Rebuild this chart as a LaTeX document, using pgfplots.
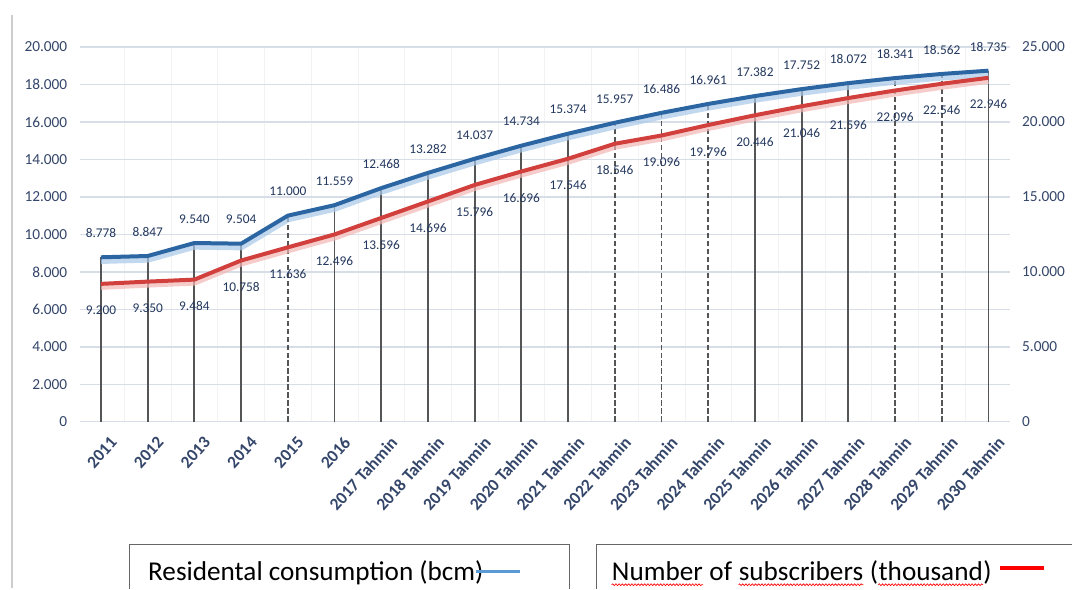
\documentclass[border=0pt]{standalone}
\usepackage{fontspec}
\setmainfont{Carlito}
\usepackage{pgfplots}
\pgfplotsset{compat=1.18}
\usepackage{pgfplotstable}
\usetikzlibrary{decorations.pathmorphing}
\definecolor{consblue}{HTML}{2C66A2}
\definecolor{consglow}{HTML}{A9C8E8}
\definecolor{subsred}{HTML}{D1403C}
\definecolor{subsglow}{HTML}{F3B7B5}
\definecolor{labcol}{HTML}{23385E}
\definecolor{tickcol}{HTML}{34466A}
\definecolor{gridcol}{HTML}{D8DEE8}
\definecolor{dropcol}{HTML}{555555}
\definecolor{legblue}{HTML}{5B9BD5}

\pgfplotstableread{
x cons subs lc ls
0 8778 9200 8.778 9.200
1 8847 9350 8.847 9.350
2 9540 9484 9.540 9.484
3 9504 10758 9.504 10.758
4 11000 11636 11.000 11.636
5 11559 12496 11.559 12.496
6 12468 13596 12.468 13.596
7 13282 14696 13.282 14.696
8 14037 15796 14.037 15.796
9 14734 16696 14.734 16.696
10 15374 17546 15.374 17.546
11 15957 18546 15.957 18.546
12 16486 19096 16.486 19.096
13 16961 19796 16.961 19.796
14 17382 20446 17.382 20.446
15 17752 21046 17.752 21.046
16 18072 21596 18.072 21.596
17 18341 22096 18.341 22.096
18 18562 22546 18.562 22.546
19 18735 22946 18.735 22.946
}\data

\begin{document}
\begin{tikzpicture}
\begin{scope}[x=0.75pt,y=-0.75pt]
\fill[white] (0,0) rectangle (1073,589);
\draw[gray!40, line width=0.8pt] (12,15) -- (12,588.5);
\end{scope}

\begin{axis}[
  at={(60pt,-316.5pt)}, anchor=south west,
  width=697.5pt, height=281.25pt, scale only axis,
  xmin=-0.45, xmax=19.45, ymin=0, ymax=20000,
  axis line style={draw=none},
  tick style={draw=none},
  scaled ticks=false,
  clip=false,
  xtick={0,...,19},
  xticklabels={2011,2012,2013,2014,2015,2016,2017 Tahmin,2018 Tahmin,2019 Tahmin,2020 Tahmin,2021 Tahmin,2022 Tahmin,2023 Tahmin,2024 Tahmin,2025 Tahmin,2026 Tahmin,2027 Tahmin,2028 Tahmin,2029 Tahmin,2030 Tahmin},
  xticklabel style={rotate=48, anchor=east, font=\bfseries\fontsize{13}{15}\selectfont, text=tickcol, yshift=-16pt, xshift=0pt},
  ytick={0,2000,...,20000},
  yticklabels={0,2.000,4.000,6.000,8.000,10.000,12.000,14.000,16.000,18.000,20.000},
  yticklabel style={font=\fontsize{11.5}{13}\selectfont, text=tickcol, xshift=-6pt},
  ymajorgrids, xminorgrids, minor x tick num=1,
  major grid style={gridcol, line width=1pt},
  minor grid style={gray!10, line width=0.5pt},
]
\addplot[ycomb, dropcol, line width=1.4pt] coordinates {
(0,8778) (1,8847) (2,9540) (3,9504) (5,11559) (6,12468) (7,13282) (8,14037) (9,14734) (10,15374) (14,17382) (15,17752) (16,18072) (19,18735)};
\addplot[ycomb, dropcol, line width=1.4pt, dash pattern=on 4pt off 2pt] coordinates {
(4,11000) (11,15957) (12,16486) (13,16961) (17,18341) (18,18562)};
\addplot[consglow, line width=5pt, opacity=0.7, yshift=-2.5pt] table[x=x,y=cons] {\data};
\addplot[consblue, line width=3pt,
  point meta=explicit symbolic,
  nodes near coords,
  every node near coord/.append style={anchor=center, yshift=18pt, font=\fontsize{10}{12}\selectfont, text=labcol}]
  table[x=x,y=cons,meta=lc] {\data};
\end{axis}

\begin{axis}[
  at={(60pt,-316.5pt)}, anchor=south west,
  width=697.5pt, height=281.25pt, scale only axis,
  xmin=-0.45, xmax=19.45, ymin=0, ymax=25000,
  axis x line=none, axis y line*=right,
  axis line style={draw=none},
  tick style={draw=none},
  scaled ticks=false,
  clip=false,
  xtick=\empty,
  ytick={0,5000,...,25000},
  yticklabels={0,5.000,10.000,15.000,20.000,25.000},
  yticklabel style={font=\fontsize{11.5}{13}\selectfont, text=tickcol, xshift=6pt},
]
\addplot[subsglow, line width=5pt, opacity=0.7, yshift=-2pt] table[x=x,y=subs] {\data};
\addplot[subsred, line width=3pt,
  point meta=explicit symbolic,
  nodes near coords,
  every node near coord/.append style={anchor=center, yshift=-20pt, font=\fontsize{10}{12}\selectfont, text=labcol}]
  table[x=x,y=subs,meta=ls] {\data};
\end{axis}

\begin{scope}[x=0.75pt,y=-0.75pt, every node/.style={inner sep=0pt, font=\fontsize{20.4}{23}\selectfont}]
\path (0,0) rectangle (1073,589);
\draw[gray!80!black, line width=0.8pt] (130,589) -- (130,545) -- (570,545) -- (570,589);
\node[anchor=base west] at (148,581) {Residental consumption (bcm)};
\draw[legblue, line width=2.5pt] (476,572) -- (520,572);
\draw[gray!80!black, line width=0.8pt] (597,589) -- (597,545) -- (1073,545);
\node[anchor=base west] (w1) at (612,581) {Number};
\node[anchor=base west] (w2) at (w1.base east) {\ of\ \hbox{}};
\node[anchor=base west] (w3) at (w2.base east) {subscribers};
\node[anchor=base west] (w4) at (w3.base east) {\ (};
\node[anchor=base west] (w5) at (w4.base east) {thousand};
\node[anchor=base west] (w6) at (w5.base east) {)};
\foreach \w in {w1,w3,w5}
  \draw[red, line width=0.5pt, decorate, decoration={snake, amplitude=0.7pt, segment length=2.4pt}]
    ([yshift=-3pt]\w.base west) -- ([yshift=-3pt]\w.base east);
\draw[red, line width=3pt] (1000,568) -- (1045,568);
\end{scope}
\end{tikzpicture}
\end{document}
